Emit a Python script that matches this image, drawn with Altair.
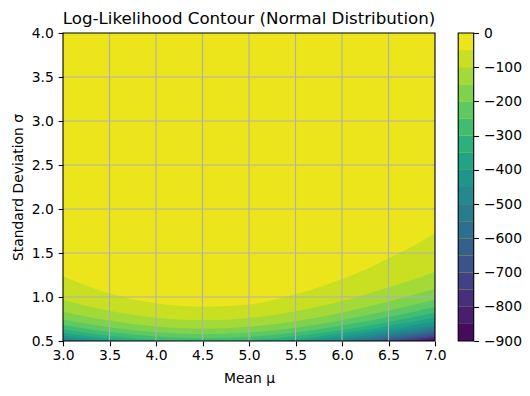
import altair as alt
import pandas as pd

# ---- axis ticks / limits ----
MU_TICKS = [3.0, 3.5, 4.0, 4.5, 5.0, 5.5, 6.0, 6.5, 7.0]
SIGMA_TICKS = [0.5, 1.0, 1.5, 2.0, 2.5, 3.0, 3.5, 4.0]
CBAR_TICKS = [-900, -800, -700, -600, -500, -400, -300, -200, -100, 0]
LEVELS = [-900, -850, -800, -750, -700, -650, -600, -550, -500, -450,
          -400, -350, -300, -250, -200, -150, -100, -50, 0]
COLORS = ["#460b5e", "#481f70", "#472f7d", "#424186", "#3b528b", "#34608d",
          "#2e6f8e", "#287c8e", "#23898e", "#1f968b", "#20a386", "#2cb17e",
          "#41bd72", "#5ec962", "#7fd24e", "#a3da37", "#c8e021", "#ede51b"]

# ---- contour lines: (mu, sigma) ----
C050 = [(3.0, 1.236), (3.25, 1.13), (3.5, 1.04), (3.75, 0.975), (4.0, 0.93), (4.5, 0.89),
        (5.0, 0.915), (5.5, 1.03), (5.75, 1.11), (6.0, 1.205), (6.25, 1.31), (6.5, 1.44),
        (6.75, 1.57), (7.0, 1.725)]
C100 = [(3.0, 0.966), (3.25, 0.899), (3.5, 0.844), (3.75, 0.798), (4.0, 0.765), (4.5, 0.736),
        (5.0, 0.761), (5.5, 0.837), (5.75, 0.891), (6.0, 0.954), (6.25, 1.029), (6.5, 1.107),
        (6.75, 1.192), (7.0, 1.285)]
C150 = [(3.0, 0.833), (3.25, 0.779), (3.5, 0.732), (3.75, 0.694), (4.0, 0.666), (4.5, 0.641),
        (5.0, 0.662), (5.5, 0.725), (5.75, 0.771), (6.0, 0.824), (6.25, 0.884), (6.5, 0.948),
        (6.75, 1.020), (7.0, 1.093)]
C200 = [(3.0, 0.745), (3.25, 0.698), (3.5, 0.657), (3.75, 0.624), (4.0, 0.599), (4.5, 0.578),
        (5.0, 0.596), (5.5, 0.651), (5.75, 0.691), (6.0, 0.738), (6.25, 0.790), (6.5, 0.846),
        (6.75, 0.907), (7.0, 0.972)]
C250 = [(3.0, 0.682), (3.25, 0.639), (3.5, 0.602), (3.75, 0.573), (4.0, 0.550), (4.5, 0.531),
        (5.0, 0.547), (5.5, 0.597), (5.75, 0.633), (6.0, 0.675), (6.25, 0.721), (6.5, 0.773),
        (6.75, 0.828), (7.0, 0.885)]
C300_LEFT = [(3.0, 0.633), (3.25, 0.594), (3.5, 0.560), (3.75, 0.532), (4.0, 0.512), (4.21, 0.5)]
C300_RIGHT = [(4.83, 0.5), (5.0, 0.509), (5.5, 0.555), (5.75, 0.588), (6.0, 0.626), (6.25, 0.669),
              (6.5, 0.716), (6.75, 0.767), (7.0, 0.820)]
C350_LEFT = [(3.0, 0.593), (3.25, 0.557), (3.5, 0.526), (3.75, 0.5)]
C350_RIGHT = [(5.29, 0.5), (5.5, 0.521), (5.75, 0.552), (6.0, 0.587), (6.25, 0.627), (6.5, 0.671),
              (6.75, 0.717), (7.0, 0.767)]
C400_LEFT = [(3.0, 0.561), (3.25, 0.527), (3.47, 0.5)]
C400_RIGHT = [(5.57, 0.5), (5.75, 0.522), (6.0, 0.555), (6.25, 0.593), (6.5, 0.633), (6.75, 0.677),
              (7.0, 0.723)]
C450_LEFT = [(3.0, 0.533), (3.26, 0.5)]
C450_RIGHT = [(5.78, 0.5), (6.0, 0.528), (6.25, 0.563), (6.5, 0.602), (6.75, 0.643), (7.0, 0.686)]
C500_LEFT = [(3.0, 0.509), (3.07, 0.5)]
C500_RIGHT = [(5.97, 0.5), (6.0, 0.504), (6.25, 0.538), (6.5, 0.575), (6.75, 0.614), (7.0, 0.655)]
C550 = [(6.13, 0.5), (6.25, 0.516), (6.5, 0.551), (6.75, 0.588), (7.0, 0.628)]
C600 = [(6.28, 0.5), (6.5, 0.530), (6.75, 0.566), (7.0, 0.603)]
C650 = [(6.42, 0.5), (6.5, 0.511), (6.75, 0.546), (7.0, 0.582)]
C700 = [(6.54, 0.5), (6.75, 0.528), (7.0, 0.563)]
C750 = [(6.66, 0.5), (6.75, 0.512), (7.0, 0.545)]
C800 = [(6.78, 0.5), (7.0, 0.530)]
C850 = [(6.89, 0.5), (7.0, 0.515)]

CONTOURS = [
    (-50, "a", C050), (-100, "a", C100), (-150, "a", C150), (-200, "a", C200),
    (-250, "a", C250), (-300, "a", C300_LEFT), (-300, "b", C300_RIGHT),
    (-350, "a", C350_LEFT), (-350, "b", C350_RIGHT), (-400, "a", C400_LEFT),
    (-400, "b", C400_RIGHT), (-450, "a", C450_LEFT), (-450, "b", C450_RIGHT),
    (-500, "a", C500_LEFT), (-500, "b", C500_RIGHT), (-550, "b", C550),
    (-600, "b", C600), (-650, "b", C650), (-700, "b", C700), (-750, "b", C750),
    (-800, "b", C800), (-850, "b", C850),
]

rows = []
for level, piece, pts in CONTOURS:
    for mu, s in pts:
        rows.append({"level": level, "piece": piece, "mu": mu, "sigma": s,
                     "base": SIGMA_TICKS[0]})
cdf = pd.DataFrame(rows)

FONT = "DejaVu Sans"
FS = 13.89

x_enc = alt.X("mu:Q",
              scale=alt.Scale(domain=[MU_TICKS[0], MU_TICKS[-1]], nice=False, zero=False),
              axis=alt.Axis(values=MU_TICKS, format=".1f", title="Mean μ", grid=False,
                            domain=False, zindex=1, labelPadding=2.5, titlePadding=9,
                            labelFlush=False))
y_enc = alt.Y("sigma:Q",
              scale=alt.Scale(domain=[SIGMA_TICKS[0], SIGMA_TICKS[-1]], nice=False, zero=False),
              axis=alt.Axis(values=SIGMA_TICKS, format=".1f", title="Standard Deviation σ",
                            grid=False, domain=False, zindex=1, titlePadding=6,
                            labelFlush=False))

layers = []
# filled bands: each level paints the region below its contour line
for level in sorted(set(c[0] for c in CONTOURS), reverse=True):
    k = LEVELS.index(level) - 1
    layers.append(
        alt.Chart(cdf)
        .transform_filter(alt.datum.level == level)
        .mark_area(interpolate="monotone", clip=True, color=COLORS[k], strokeWidth=0)
        .encode(x=x_enc, y=y_enc, y2=alt.Y2("base:Q"), detail="piece:N")
    )

grid_v = alt.Chart(pd.DataFrame({"mu": MU_TICKS[1:-1]})).mark_rule(
    color="#b0b0b0", strokeWidth=1.1).encode(x=x_enc)
grid_h = alt.Chart(pd.DataFrame({"sigma": SIGMA_TICKS[1:-1]})).mark_rule(
    color="#b0b0b0", strokeWidth=1.1).encode(y=y_enc)
frame = alt.Chart(pd.DataFrame({"mu": [MU_TICKS[0]], "mu2": [MU_TICKS[-1]],
                                "sigma": [SIGMA_TICKS[0]], "sigma2": [SIGMA_TICKS[-1]]})
                  ).mark_rect(filled=False, stroke="black", strokeWidth=1.1).encode(
    x=x_enc, x2="mu2:Q", y=y_enc, y2="sigma2:Q")

main = alt.layer(*layers, grid_v, grid_h, frame).properties(
    width=372, height=308,
    title=alt.TitleParams("Log-Likelihood Contour (Normal Distribution)", font=FONT,
                          fontSize=16.67, fontWeight="normal", color="black",
                          offset=-2, frame="group", anchor="middle"),
)

cb_df = pd.DataFrame({"lo": LEVELS[:-1], "hi": LEVELS[1:], "color": COLORS})
cb_scale = alt.Scale(domain=[LEVELS[0], LEVELS[-1]], nice=False, zero=False)
cb_axis = alt.Axis(orient="right", values=CBAR_TICKS, format="d", title=None,
                   grid=False, domain=False, labelOverlap=False, labelBound=False,
                   labelFlush=False)
cbar_rects = alt.Chart(cb_df).mark_rect().encode(
    y=alt.Y("lo:Q", scale=cb_scale, axis=cb_axis),
    y2="hi:Q",
    color=alt.Color("color:N", scale=None),
)
cbar_frame = alt.Chart(pd.DataFrame({"lo": [LEVELS[0]], "hi": [LEVELS[-1]]})).mark_rect(
    filled=False, stroke="black", strokeWidth=1.1).encode(
    y=alt.Y("lo:Q", scale=cb_scale, axis=cb_axis), y2="hi:Q")
cbar = alt.layer(cbar_rects, cbar_frame).properties(width=15.5, height=308)

chart = alt.hconcat(main, cbar, spacing=23.2, bounds="flush").properties(
    padding={"left": 3, "top": 3, "right": 0, "bottom": 0}
).configure_view(
    stroke=None, fill=COLORS[-1]
).configure_axis(
    labelFont=FONT, labelFontSize=FS, labelColor="black", labelFlush=False,
    titleFont=FONT, titleFontSize=FS, titleFontWeight="normal", titleColor="black",
    tickColor="black", tickWidth=1.1, tickSize=4.86, labelPadding=4.86,
)

chart.save("out.html", embed_options={"renderer": "svg", "actions": False})
